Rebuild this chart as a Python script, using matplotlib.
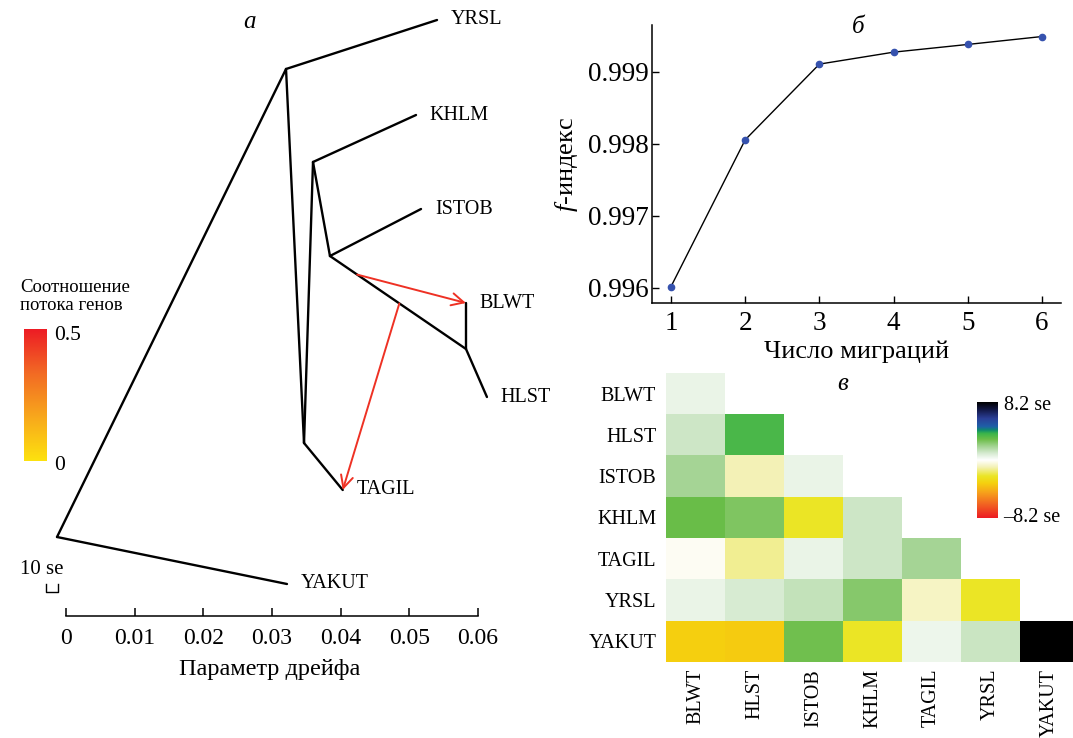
import numpy as np
import matplotlib
matplotlib.use("Agg")
import matplotlib.pyplot as plt
from matplotlib.colors import LinearSegmentedColormap, Normalize

plt.rcParams['font.family'] = ['Liberation Serif', 'DejaVu Serif']
plt.rcParams['mathtext.fontset'] = 'custom'
plt.rcParams['mathtext.rm'] = 'Liberation Serif'
plt.rcParams['mathtext.it'] = 'Liberation Serif:italic'

# ---------------- data ----------------
# tree: node -> (drift parameter, vertical layout position)
node_names = ['root', 'A', 'C', 'D', 'E', 'F',
              'YRSL', 'KHLM', 'ISTOB', 'BLWT', 'HLST', 'TAGIL', 'YAKUT']
node_x = [-0.00131, 0.03204, 0.03466, 0.03597, 0.03844, 0.05825,
          0.05403, 0.05097, 0.0517, 0.05825, 0.0613, 0.0403, 0.03218]
node_y = [79, 547, 173, 454, 360, 267,
          596, 501, 407, 313, 219, 126, 32]
edges = [('root', 'A'), ('root', 'YAKUT'), ('A', 'YRSL'), ('A', 'C'),
         ('C', 'D'), ('C', 'TAGIL'), ('D', 'KHLM'), ('D', 'E'),
         ('E', 'ISTOB'), ('E', 'F'), ('F', 'BLWT'), ('F', 'HLST')]
tips = ['YRSL', 'KHLM', 'ISTOB', 'BLWT', 'HLST', 'TAGIL', 'YAKUT']
# migration edges: (source edge, fraction along edge, target)
migrations = [(('E', 'F'), 0.20, 'BLWT'), (('E', 'F'), 0.51, 'TAGIL')]
drift_ticks = [0, 0.01, 0.02, 0.03, 0.04, 0.05, 0.06]
drift_ticklabels = ['0', '0.01', '0.02', '0.03', '0.04', '0.05', '0.06']

# f-index vs number of migrations
n_migr = [1, 2, 3, 4, 5, 6]
f_index = [0.996018, 0.998056, 0.999107, 0.999273, 0.999380, 0.999490]
f_ticks = [0.996, 0.997, 0.998, 0.999]

# residual heatmap (lower triangle)
pops = ['BLWT', 'HLST', 'ISTOB', 'KHLM', 'TAGIL', 'YRSL', 'YAKUT']
resid_rows = [
    [0.5],
    [1.15, 3.5],
    [1.9, -1.0, 0.5],
    [2.95, 2.6, -2.3, 1.15],
    [-0.15, -1.3, 0.5, 1.15, 1.9],
    [0.5, 0.9, 1.3, 2.45, -0.8, -2.3],
    [-3.3, -3.45, 2.85, -2.3, 0.4, 1.2, 8.2],
]
se_max = 8.2

# ---------------- figure ----------------
W, H = 1073, 738
fig = plt.figure(figsize=(W / 100, H / 100), dpi=100)
fx = lambda px: px / W
fy = lambda py: 1 - py / H

# ---- panel a: tree ----
px0 = 66.0
ppu = 6867.0
ax = fig.add_axes([fx(10), fy(616), (530 - 10) / W, 616 / H])
ax.set_xlim((10 - px0) / ppu, (530 - px0) / ppu)
ax.set_ylim(0, 616)
pos = {n: (x, y) for n, x, y in zip(node_names, node_x, node_y)}
for a, b in edges:
    ax.plot([pos[a][0], pos[b][0]], [pos[a][1], pos[b][1]],
            color='black', lw=1.7, solid_capstyle='round', zorder=2)
for t in tips:
    ax.annotate(t, xy=pos[t], xytext=(10, 0), textcoords='offset points',
                ha='left', va='center', fontsize=14.5)
for (a, b), frac, tgt in migrations:
    sx = pos[a][0] + frac * (pos[b][0] - pos[a][0])
    sy = pos[a][1] + frac * (pos[b][1] - pos[a][1])
    ax.annotate('', xy=pos[tgt], xytext=(sx, sy),
                arrowprops=dict(arrowstyle='->', color='#EE3124', lw=1.4,
                                mutation_scale=22, shrinkA=0, shrinkB=0),
                zorder=3)
for s in ['left', 'top', 'right']:
    ax.spines[s].set_visible(False)
ax.spines['bottom'].set_bounds(0, 0.06)
ax.spines['bottom'].set_linewidth(1.1)
ax.set_yticks([])
ax.set_xticks(drift_ticks)
ax.set_xticklabels(drift_ticklabels, fontsize=17)
ax.tick_params(axis='x', direction='in', length=6, width=1.1, pad=9)
ax.set_xlabel('Параметр дрейфа', fontsize=17.5, labelpad=7)
ax.patch.set_alpha(0)
fig.text(fx(250), fy(22), 'а', fontsize=18, style='italic', ha='center', va='center')

# scale bar
fig.text(fx(20), fy(570), '10 se', fontsize=15, ha='left', va='center')
fig.add_artist(plt.Line2D([fx(45.5), fx(45.5), fx(57.5), fx(57.5)],
                          [fy(584), fy(592), fy(592), fy(584)],
                          color='black', lw=1.0))

# migration weight legend
fig.text(fx(20), fy(288), 'Соотношение', fontsize=13.5, ha='left', va='center')
fig.text(fx(20), fy(306), 'потока генов', fontsize=13.5, ha='left', va='center')
mig_cmap = LinearSegmentedColormap.from_list(
    'mig', ['#FDE20F', '#F8A81C', '#F26A24', '#ED1C24'])
cax1 = fig.add_axes([fx(24), fy(461), 23 / W, 132 / H])
cax1.imshow(np.linspace(0, 1, 256)[:, None], cmap=mig_cmap, aspect='auto',
            origin='lower')
cax1.axis('off')
fig.text(fx(54), fy(335), '0.5', fontsize=15.5, ha='left', va='center')
fig.text(fx(54), fy(465), '0', fontsize=15.5, ha='left', va='center')

# ---- panel b: f-index ----
axb = fig.add_axes([fx(652), fy(303), (1061 - 652) / W, (303 - 25) / H])
axb.plot(n_migr, f_index, color='black', lw=1.0, zorder=2)
axb.plot(n_migr, f_index, 'o', color='#3652AE', ms=4.5, zorder=3)
axb.set_xlim(0.744, 6.256)
axb.set_ylim(0.99579, 0.99965)
axb.set_xticks(n_migr)
axb.set_yticks(f_ticks)
axb.set_yticklabels(['%.3f' % v for v in f_ticks])
axb.tick_params(direction='in', length=5, width=1.0, labelsize=19.5)
axb.tick_params(axis='x', pad=6)
axb.tick_params(axis='y', pad=2)
for s in ['top', 'right']:
    axb.spines[s].set_visible(False)
for s in ['left', 'bottom']:
    axb.spines[s].set_linewidth(1.1)
axb.set_xlabel('Число миграций', fontsize=19, labelpad=3)
axb.set_ylabel(r'$\mathit{f}$-индекс', fontsize=19, labelpad=6)
fig.text(fx(858), fy(27), 'б', fontsize=18, style='italic', ha='center', va='center')

# ---- panel c: residuals ----
res_cmap = LinearSegmentedColormap.from_list('resid', [
    (0.00, '#ED1C24'), (0.12, '#F26522'), (0.22, '#F7A21B'),
    (0.30, '#F5D10F'), (0.36, '#EBE524'), (0.44, '#F4F2B8'),
    (0.50, '#FFFFFF'), (0.56, '#D5EAD0'), (0.62, '#A2D391'),
    (0.68, '#6CBE48'), (0.73, '#3AB54A'), (0.76, '#0E8A6E'),
    (0.79, '#1F5FA8'), (0.86, '#2B3F97'), (0.93, '#141B4D'),
    (1.00, '#000000')])
n = len(pops)
mat = np.full((n, n), np.nan)
for i, row in enumerate(resid_rows):
    mat[i, :len(row)] = row
cw = 59.0
axc = fig.add_axes([fx(666), fy(662), (W - 666) / W, (662 - 373) / H])
axc.imshow(np.ma.masked_invalid(mat), cmap=res_cmap,
           norm=Normalize(-se_max, se_max), aspect='auto',
           extent=(-0.5, n - 0.5, n - 0.5, -0.5), interpolation='nearest')
axc.set_xlim(-0.5, -0.5 + (W - 666) / cw)
axc.set_ylim(n - 0.5, -0.5)
axc.set_xticks(range(n))
axc.set_xticklabels(pops, rotation=90, fontsize=14.5)
axc.set_yticks(range(n))
axc.set_yticklabels(pops, fontsize=14.5)
axc.tick_params(length=0, pad=7)
axc.tick_params(axis='x', pad=5)
for s in axc.spines.values():
    s.set_visible(False)
fig.text(fx(843), fy(384), 'в', fontsize=18, style='italic', ha='center', va='center')

cax2 = fig.add_axes([fx(977), fy(518), 21 / W, 116 / H])
cax2.imshow(np.linspace(0, 1, 256)[:, None], cmap=res_cmap, aspect='auto',
            origin='lower')
cax2.axis('off')
fig.text(fx(1004), fy(406), '%.1f se' % se_max, fontsize=14.5, ha='left', va='center')
fig.text(fx(1003), fy(518), '\u2013%.1f se' % se_max, fontsize=14.5, ha='left', va='center')

fig.savefig('out.png', dpi=100)
